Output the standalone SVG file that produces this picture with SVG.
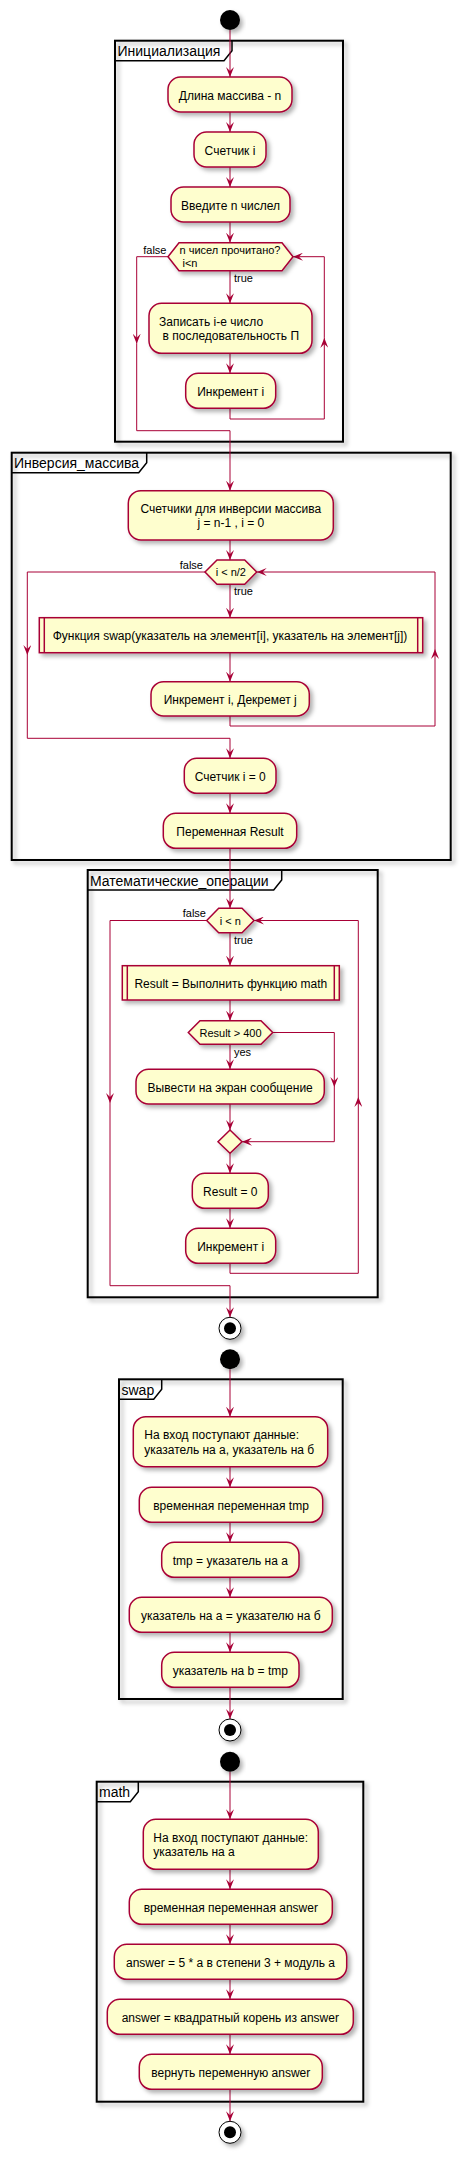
<svg xmlns="http://www.w3.org/2000/svg" width="466" height="2159" viewBox="0 0 466 2159">
<defs>
<filter id="sh" x="-20%" y="-20%" width="150%" height="160%">
<feDropShadow dx="3" dy="3" stdDeviation="2" flood-color="#000" flood-opacity="0.3"/>
</filter>
<marker id="ah" markerUnits="userSpaceOnUse" viewBox="0 0 10 8" refX="10" refY="4" markerWidth="10" markerHeight="8" orient="auto">
<path d="M0,0 L10,4 L0,8 L4,4 Z" fill="#A80036"/>
</marker>
</defs>
<style>
.act{fill:#FEFECE;stroke:#A80036;stroke-width:1.5;filter:url(#sh)}
.dec{fill:#FEFECE;stroke:#A80036;stroke-width:1.5;filter:url(#sh)}
.sub{fill:none;stroke:#A80036;stroke-width:1.5}
.fr{fill:none;stroke:#000;stroke-width:2;filter:url(#sh)}
.tab{fill:none;stroke:#000;stroke-width:1.5}
.c{fill:none;stroke:#A80036;stroke-width:1}
.a{fill:none;stroke:#A80036;stroke-width:1;marker-end:url(#ah)}
text{font-family:"Liberation Sans",Arial,sans-serif;fill:#000}
.t{font-size:12px;text-anchor:middle}
.tl{font-size:12px}
.d{font-size:11px}
.dm{font-size:11px;text-anchor:middle}
.de{font-size:11px;text-anchor:end}
.ft{font-size:14px}
.start{fill:#000;filter:url(#sh)}
.endo{fill:#fff;stroke:#000;stroke-width:1;filter:url(#sh)}
.endi{fill:#000}
</style>
<rect width="466" height="2159" fill="#fff"/>

<g id="frames">
<g id="frame-init">
<rect class="fr" x="115" y="40.7" width="228" height="401"/>
<path class="tab" d="M115,60.7 H224 L232,50.7 V40.7"/>
<text class="ft" x="117.5" y="56.2">Инициализация</text>
</g>
<g id="frame-inv">
<rect class="fr" x="11.7" y="452.7" width="439" height="407.3"/>
<path class="tab" d="M11.7,472.7 H138.7 L146.7,462.7 V452.7"/>
<text class="ft" x="14" y="468.2">Инверсия_массива</text>
</g>
<g id="frame-math-ops">
<rect class="fr" x="87.7" y="870" width="290" height="427.3"/>
<path class="tab" d="M87.7,890 H273.7 L281.7,880 V870"/>
<text class="ft" x="90" y="885.5">Математические_операции</text>
</g>
<g id="frame-swap">
<rect class="fr" x="119" y="1379.3" width="223.7" height="319.7"/>
<path class="tab" d="M119,1399.3 H153.7 L161.7,1389.3 V1379.3"/>
<text class="ft" x="121.5" y="1394.8">swap</text>
</g>
<g id="frame-math">
<rect class="fr" x="96.7" y="1781.7" width="266.6" height="320"/>
<path class="tab" d="M96.7,1801.7 H130.3 L138.3,1791.7 V1781.7"/>
<text class="ft" x="99" y="1797.2">math</text>
</g>
</g>

<g id="connectors">
<path class="a" d="M230,30 V77"/>
<path class="a" d="M230,112 V132"/>
<path class="a" d="M230,167 V187"/>
<path class="a" d="M230,222 V242.7"/>
<path class="a" d="M230,270.7 V303.3"/>
<path class="a" d="M230,353.3 V373.3"/>
<path class="a" d="M230,408.3 V419 H324.3 V337.9"/>
<path class="a" d="M324.3,337.9 V256.7 H293"/>
<path class="a" d="M168,256.7 H136.7 V343.7"/>
<path class="a" d="M136.7,343.7 V430.7 H230 V490.7"/>
<text class="de" x="166.5" y="253.5">false</text>
<text class="d" x="234" y="282">true</text>

<path class="a" d="M230,540 V560"/>
<path class="a" d="M230,584.3 V617.7"/>
<path class="a" d="M230,652.7 V681.7"/>
<path class="a" d="M230,716 V726 H435 V649"/>
<path class="a" d="M435,649 V572 H256.7"/>
<path class="a" d="M205,572 H27.3 V655"/>
<path class="a" d="M27.3,655 V738.3 H230 V758.3"/>
<path class="a" d="M230,793.3 V813.3"/>
<path class="a" d="M230,848.3 V908.3"/>
<text class="de" x="203" y="569">false</text>
<text class="d" x="234" y="595">true</text>

<path class="a" d="M230,932.7 V965.7"/>
<path class="a" d="M230,1000 V1020.7"/>
<path class="a" d="M230,1044.3 V1069.3"/>
<path class="a" d="M230,1104 V1130"/>
<path class="a" d="M272.7,1032.5 H334.3 V1087"/>
<path class="a" d="M334.3,1087 V1141.7 H242"/>
<path class="a" d="M230,1153.3 V1173.3"/>
<path class="a" d="M230,1208.3 V1228.3"/>
<path class="a" d="M230,1263.3 V1273.3 H358.3 V1097"/>
<path class="a" d="M358.3,1097 V920.5 H254"/>
<path class="a" d="M206.7,920.5 H110 V1103"/>
<path class="a" d="M110,1103 V1285.7 H230 V1317.3"/>
<text class="de" x="206" y="917">false</text>
<text class="d" x="234" y="943.5">true</text>
<text class="d" x="234" y="1055.5">yes</text>

<path class="a" d="M230,1369.3 V1416.7"/>
<path class="a" d="M230,1466.7 V1487.3"/>
<path class="a" d="M230,1522.3 V1542.3"/>
<path class="a" d="M230,1577.3 V1597.3"/>
<path class="a" d="M230,1632.3 V1652.3"/>
<path class="a" d="M230,1687.3 V1719"/>

<path class="a" d="M230,1771.7 V1819.3"/>
<path class="a" d="M230,1869.3 V1889.3"/>
<path class="a" d="M230,1924.3 V1944.3"/>
<path class="a" d="M230,1979.3 V1999.3"/>
<path class="a" d="M230,2034.3 V2054.3"/>
<path class="a" d="M230,2089.3 V2121.3"/>
</g>

<g id="start1"><circle class="start" cx="230" cy="20" r="10"/></g>
<g id="n-length"><rect class="act" x="168" y="77" width="124" height="35" rx="12.5"/><text class="t" x="230" y="99.5">Длина массива - n</text></g>
<g id="n-counter"><rect class="act" x="194" y="132" width="72" height="35" rx="12.5"/><text class="t" x="230" y="154.5">Счетчик i</text></g>
<g id="n-input"><rect class="act" x="171" y="187" width="119" height="35" rx="12.5"/><text class="t" x="230.5" y="209.5">Введите n числел</text></g>
<g id="d-read"><polygon class="dec" points="168,256.7 179,242.7 282,242.7 293,256.7 282,270.7 179,270.7"/><text class="d" x="179.5" y="254">n чисел прочитано?</text><text class="d" x="182.5" y="267">i&lt;n</text></g>
<g id="n-write"><rect class="act" x="149" y="303.3" width="163" height="50" rx="12.5"/><text class="tl" x="159" y="325.5">Записать i-е число</text><text class="tl" x="162.5" y="340">в последовательность П</text></g>
<g id="n-inc1"><rect class="act" x="185.7" y="373.3" width="90" height="35" rx="12.5"/><text class="t" x="230.7" y="395.8">Инкремент i</text></g>

<g id="n-counters"><rect class="act" x="128.3" y="490.7" width="205" height="49.3" rx="12.5"/><text class="t" x="230.8" y="512.7">Счетчики для инверсии массива</text><text class="t" x="230.8" y="527">j = n-1 , i = 0</text></g>
<g id="d-half"><polygon class="dec" points="205,572 217,560 244.7,560 256.7,572 244.7,584.3 217,584.3"/><text class="dm" x="230.8" y="576">i &lt; n/2</text></g>
<g id="n-swap"><rect class="act" x="39.3" y="617.7" width="383.4" height="35"/><line class="sub" x1="44.3" y1="617.7" x2="44.3" y2="652.7"/><line class="sub" x1="417.7" y1="617.7" x2="417.7" y2="652.7"/><text class="t" x="230" y="639.5">Функция swap(указатель на элемент[i], указатель на элемент[j])</text></g>
<g id="n-incdec"><rect class="act" x="151" y="681.7" width="158.3" height="34.3" rx="12.5"/><text class="t" x="230.2" y="703.8">Инкремент i, Декремет j</text></g>
<g id="n-reset"><rect class="act" x="184.3" y="758.3" width="91.7" height="35" rx="12.5"/><text class="t" x="230.2" y="780.8">Счетчик i = 0</text></g>
<g id="n-result-var"><rect class="act" x="163.3" y="813.3" width="133.4" height="35" rx="12.5"/><text class="t" x="230" y="835.8">Переменная Result</text></g>

<g id="d-lt-n"><polygon class="dec" points="206.7,920.5 218.7,908.3 242,908.3 254,920.5 242,932.7 218.7,932.7"/><text class="dm" x="230.3" y="924.5">i &lt; n</text></g>
<g id="n-math-call"><rect class="act" x="122.3" y="965.7" width="217" height="34.3"/><line class="sub" x1="127.3" y1="965.7" x2="127.3" y2="1000"/><line class="sub" x1="334.3" y1="965.7" x2="334.3" y2="1000"/><text class="t" x="230.8" y="987.5">Result = Выполнить функцию math</text></g>
<g id="d-gt400"><polygon class="dec" points="188.3,1032.5 200,1020.7 261,1020.7 272.7,1032.5 261,1044.3 200,1044.3"/><text class="dm" x="230.5" y="1036.5">Result &gt; 400</text></g>
<g id="n-print"><rect class="act" x="136" y="1069.3" width="188.3" height="34.7" rx="12.5"/><text class="t" x="230.2" y="1091.5">Вывести на экран сообщение</text></g>
<g id="d-merge"><polygon class="dec" points="230,1130 242,1141.7 230,1153.3 218,1141.7"/></g>
<g id="n-result0"><rect class="act" x="192.3" y="1173.3" width="76" height="35" rx="12.5"/><text class="t" x="230.3" y="1195.8">Result = 0</text></g>
<g id="n-inc2"><rect class="act" x="185.7" y="1228.3" width="90" height="35" rx="12.5"/><text class="t" x="230.7" y="1250.8">Инкремент i</text></g>
<g id="end1"><circle class="endo" cx="230" cy="1328.3" r="11"/><circle class="endi" cx="230" cy="1328.3" r="6"/></g>

<g id="start2"><circle class="start" cx="230" cy="1359.3" r="10"/></g>
<g id="s-input"><rect class="act" x="133.3" y="1416.7" width="194.4" height="50" rx="12.5"/><text class="tl" x="144.3" y="1439.3">На вход поступают данные:</text><text class="tl" x="144.3" y="1453.8">указатель на a, указатель на б</text></g>
<g id="s-tmp"><rect class="act" x="139.3" y="1487.3" width="183.4" height="35" rx="12.5"/><text class="t" x="231" y="1509.8">временная переменная tmp</text></g>
<g id="s-assign1"><rect class="act" x="161.7" y="1542.3" width="137.3" height="35" rx="12.5"/><text class="t" x="230.3" y="1564.8">tmp = указатель на a</text></g>
<g id="s-assign2"><rect class="act" x="129.3" y="1597.3" width="203" height="35" rx="12.5"/><text class="t" x="230.8" y="1619.8">указатель на a = указателю на б</text></g>
<g id="s-assign3"><rect class="act" x="161.7" y="1652.3" width="137.3" height="35" rx="12.5"/><text class="t" x="230.3" y="1674.8">указатель на b = tmp</text></g>
<g id="end2"><circle class="endo" cx="230" cy="1730" r="11"/><circle class="endi" cx="230" cy="1730" r="6"/></g>

<g id="start3"><circle class="start" cx="230" cy="1761.7" r="10"/></g>
<g id="m-input"><rect class="act" x="143.3" y="1819.3" width="175" height="50" rx="12.5"/><text class="tl" x="153.3" y="1841.5">На вход поступают данные:</text><text class="tl" x="153.3" y="1856">указатель на a</text></g>
<g id="m-answer"><rect class="act" x="129.3" y="1889.3" width="203" height="35" rx="12.5"/><text class="t" x="230.8" y="1911.8">временная переменная answer</text></g>
<g id="m-calc"><rect class="act" x="114.3" y="1944.3" width="232.4" height="35" rx="12.5"/><text class="t" x="230.5" y="1966.8">answer = 5 * a в степени 3 + модуль a</text></g>
<g id="m-sqrt"><rect class="act" x="107.3" y="1999.3" width="246" height="35" rx="12.5"/><text class="t" x="230.3" y="2021.8">answer = квадратный корень из answer</text></g>
<g id="m-return"><rect class="act" x="139.3" y="2054.3" width="183" height="35" rx="12.5"/><text class="t" x="230.8" y="2076.8">вернуть переменную answer</text></g>
<g id="end3"><circle class="endo" cx="230" cy="2132.3" r="11"/><circle class="endi" cx="230" cy="2132.3" r="6"/></g>
</svg>
